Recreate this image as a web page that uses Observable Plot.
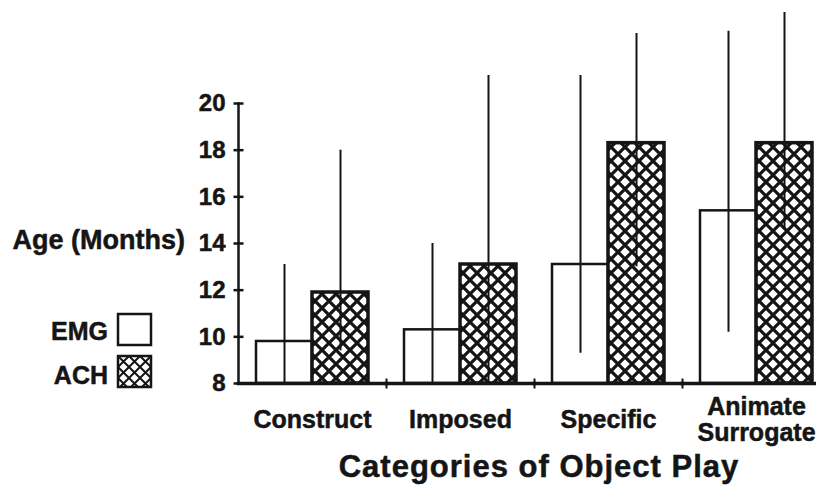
<!DOCTYPE html>
<html><head><meta charset="utf-8">
<script src="https://cdn.jsdelivr.net/npm/d3@7"></script>
<script src="https://cdn.jsdelivr.net/npm/@observablehq/plot@0.6"></script>
<style>
body{margin:0;background:#fff;}
#wrap{position:relative;width:816px;height:485px;overflow:hidden;}
#wrap svg text{stroke:#151515;stroke-width:0.5px;}
</style></head><body><div id="wrap"></div>
<script>
// ---- data ----
const categories = ["Construct", "Imposed", "Specific", "Animate Surrogate"];
const tickLabels = ["Construct", "Imposed", "Specific", "Animate\nSurrogate"];
const groups = ["EMG", "ACH"];
const emgMean = [9.8, 10.3, 13.1, 15.4];
const emgLow  = [8.0, 8.0, 9.3, 10.2];
const emgHigh = [13.1, 14.0, 21.2, 23.1];
const achMean = [11.9, 13.1, 18.3, 18.3];
const achLow  = [9.4, 8.0, 13.0, 14.6];
const achHigh = [18.0, 21.2, 23.0, 23.9];
const yTicks = [8, 10, 12, 14, 16, 18, 20];
const yLabel = "Age (Months)";
const xLabel = "Categories of Object Play";

const table = categories.flatMap((c, i) => [
  {cat: c, grp: "EMG", mean: emgMean[i], lo: emgLow[i], hi: emgHigh[i]},
  {cat: c, grp: "ACH", mean: achMean[i], lo: achLow[i], hi: achHigh[i]}
]);

const ink = "#151515";
const font = "'Liberation Sans', Arial, Helvetica, sans-serif";
const hline = {draw(ctx, size) { const r = Math.sqrt(size / Math.PI); ctx.moveTo(-r, 0); ctx.lineTo(r, 0); }};
const vline = {draw(ctx, size) { const r = Math.sqrt(size / Math.PI); ctx.moveTo(0, -r); ctx.lineTo(0, r); }};

const chart = Plot.plot({
  width: 816, height: 485,
  marginLeft: 238, marginRight: -14, marginTop: 103, marginBottom: 102,
  style: {fontFamily: font, fontWeight: "bold", background: "white", color: ink},
  fx: {domain: categories, paddingInner: 0, paddingOuter: 0, label: null},
  x: {domain: groups, paddingInner: 0, paddingOuter: 0.3, axis: null},
  y: {domain: [8, 20]},
  marks: [
    Plot.barY(table.filter(d => d.grp === "EMG"), {fx: "cat", x: "grp", y1: 8, y2: "mean", fill: "white", stroke: ink, strokeWidth: 2.5}),
    Plot.barY(table.filter(d => d.grp === "ACH"), {fx: "cat", x: "grp", y1: 8, y2: "mean", fill: "url(#xhatch)", stroke: ink, strokeWidth: 3.5}),
    Plot.ruleX(table, {fx: "cat", x: "grp", y1: "lo", y2: "hi", stroke: ink, strokeWidth: 2}),
    Plot.frame({anchor: "left", facetAnchor: "left", stroke: ink, strokeWidth: 2.5}),
    Plot.frame({anchor: "bottom", stroke: ink, strokeWidth: 3.5}),
    Plot.dot(categories.slice(1), {fx: d => d, frameAnchor: "bottom-left", symbol: vline, r: 5, stroke: ink, strokeWidth: 2, fill: "none"}),
    Plot.dot(yTicks, {y: d => d, frameAnchor: "left", facetAnchor: "left", symbol: hline, r: 5, stroke: ink, strokeWidth: 2.5, fill: "none"}),
    Plot.axisY({ticks: yTicks, tickSize: 0, tickPadding: 13, fontSize: 24, label: null, tickFormat: d => d}),
    Plot.axisFx({anchor: "bottom", tickSize: 0, tickPadding: 36, lineAnchor: "middle", lineHeight: 1.04, fontSize: 25,
      tickFormat: d => tickLabels[categories.indexOf(d)], label: null})
  ]
});

const ns = "http://www.w3.org/2000/svg";
const defs = document.createElementNS(ns, "defs");
defs.innerHTML =
  `<pattern id="xhatch" patternUnits="userSpaceOnUse" width="14" height="14">` +
  `<rect width="14" height="14" fill="white"/>` +
  `<path d="M-1,-1L15,15M15,-1L-1,15" stroke="${ink}" stroke-width="3.2"/></pattern>` +
  `<pattern id="xhatchS" patternUnits="userSpaceOnUse" width="11" height="11" x="118" y="356">` +
  `<rect width="11" height="11" fill="white"/>` +
  `<path d="M-1,-1L12,12M12,-1L-1,12" stroke="${ink}" stroke-width="2"/></pattern>`;
chart.insertBefore(defs, chart.firstChild);

const g = document.createElementNS(ns, "g");
g.setAttribute("font-family", font);
g.setAttribute("font-weight", "bold");
g.setAttribute("fill", ink);
g.innerHTML =
  `<text x="185" y="249" font-size="27" text-anchor="end">${yLabel}</text>` +
  `<text x="108" y="340" font-size="25" text-anchor="end">${groups[0]}</text>` +
  `<rect x="118" y="314" width="33" height="31" fill="white" stroke="${ink}" stroke-width="2.5"/>` +
  `<text x="108" y="384" font-size="25" text-anchor="end">${groups[1]}</text>` +
  `<rect x="118" y="356" width="33" height="31" fill="url(#xhatchS)" stroke="${ink}" stroke-width="2.5"/>` +
  `<text x="539" y="477" font-size="31" letter-spacing="1" text-anchor="middle">${xLabel}</text>`;
chart.appendChild(g);

document.getElementById("wrap").appendChild(chart);
</script>
</body></html>
